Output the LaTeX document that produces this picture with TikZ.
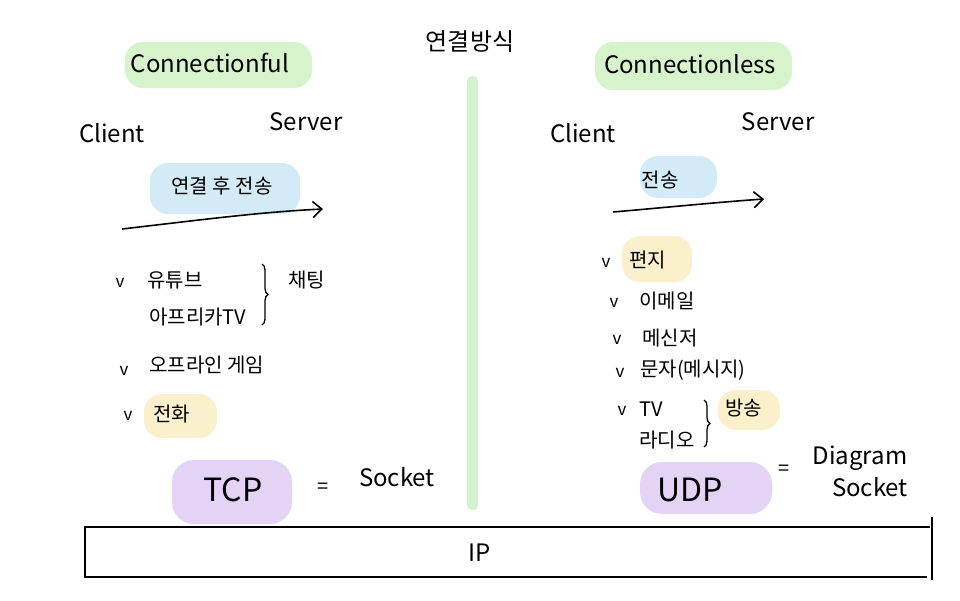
\documentclass[tikz,border=0pt]{standalone}
\usepackage{fontspec}
\setmainfont{Noto Sans CJK KR}
\usetikzlibrary{arrows.meta,decorations.pathreplacing}
\definecolor{hlgreen}{HTML}{D6F3CC}
\definecolor{hlblue}{HTML}{D3EBF6}
\definecolor{hlyellow}{HTML}{FAF0CC}
\definecolor{hlpurple}{HTML}{E3D3F4}
\definecolor{divgreen}{HTML}{D4F2CF}
\tikzset{
  txt/.style={inner sep=1pt, font=\fontsize{20}{22}\selectfont},
  title/.style={inner sep=1pt, font=\fontsize{24}{26}\selectfont},
  role/.style={inner sep=1pt, font=\fontsize{24}{26}\selectfont},
  chk/.style={inner sep=0pt, font=\fontsize{17}{18}\selectfont},
  big/.style={inner sep=1pt, font=\fontsize{32}{34}\selectfont},
  hl/.style={rounded corners=18pt},
  flow/.style={line width=1.6pt, -{Straight Barb[length=9pt,width=16pt]}},
  brc/.style={line width=1.3pt, decorate, decoration={brace, amplitude=6pt}},
  line/.style={line width=1.4pt}
}
\begin{document}
\begin{tikzpicture}[x=1pt,y=-1pt]
\useasboundingbox (0,0) rectangle (960,600);
\fill[white] (0,0) rectangle (960,600);
% divider
\fill[divgreen, rounded corners=5pt] (467,76) rectangle (478,510);
% highlights
\fill[hlgreen, hl] (125,42) rectangle (312,88);
\fill[hlgreen, hl] (595,42) rectangle (792,90);
\fill[hlblue, hl] (150,163) rectangle (300,214);
\fill[hlblue, hl] (640,156) rectangle (717,198);
\fill[hlyellow, hl] (144,394) rectangle (217,438);
\fill[hlyellow, hl] (622,236) rectangle (692,282);
\fill[hlyellow, hl] (718,390) rectangle (780,430);
\fill[hlpurple, rounded corners=22pt] (172,460) rectangle (292,524);
\fill[hlpurple, rounded corners=22pt] (640,462) rectangle (772,514);
% header
\node[title] (hdr) at (470,42) {연결방식};
\node[title] (cful) at (210,63) {Connectionful};
\node[title] (cless) at (690,64) {Connectionless};
% left side
\node[role] (cl1) at (112,133) {Client};
\node[role] (sv1) at (306,122) {Server};
\node[txt] (t1) at (222,186) {연결 후 전송};
\coordinate (a1s) at (122,229);
\coordinate (a1e) at (323,209);
\draw[flow] (a1s) .. controls (200,220) and (260,212) .. (a1e);
\node[chk] (c1) at (120,283) {v};
\node[txt, anchor=west] (yt) at (146,280) {유튜브};
\node[txt, anchor=west] (af) at (148,317) {아프리카TV};
\draw[brc] (262,264) -- (262,325);
\node[txt, anchor=west] (chat) at (287,280) {채팅};
\node[chk] (c2) at (124,371) {v};
\node[txt, anchor=west] (game) at (148,365) {오프라인 게임};
\node[chk] (c3) at (128,416) {v};
\node[txt, anchor=west] (tel) at (152,414) {전화};
\node[big] (tcp) at (233,490) {TCP};
\node[txt] (eq1) at (323,488) {=};
\node[role] (sock1) at (397,477) {Socket};
% right side
\node[role] (cl2) at (583,133) {Client};
\node[role] (sv2) at (778,122) {Server};
\node[txt] (t2) at (660,180) {전송};
\coordinate (a2s) at (613,212);
\coordinate (a2e) at (764,199);
\draw[flow] (a2s) .. controls (660,208) and (720,202) .. (a2e);
\node[chk] (d1) at (606,263) {v};
\node[txt, anchor=west] (letter) at (628,260) {편지};
\node[chk] (d2) at (614,303) {v};
\node[txt, anchor=west] (mail) at (638,301) {이메일};
\node[chk] (d3) at (617,340) {v};
\node[txt, anchor=west] (msg) at (641,338) {메신저};
\node[chk] (d4) at (620,373) {v};
\node[txt, anchor=west] (sms) at (639,370) {문자(메시지)};
\node[chk] (d5) at (622,411) {v};
\node[txt, anchor=west] (tv) at (638,409) {TV};
\node[txt, anchor=west] (radio) at (638,440) {라디오};
\draw[brc] (704,400) -- (704,447);
\node[txt, anchor=west] (bc) at (724,408) {방송};
\node[big] (udp) at (690,490) {UDP};
\node[txt] (eq2) at (784,470) {=};
\node[role] (diag) at (860,458) {Diagram};
\node[role] (sock2) at (870,487) {Socket};
% IP box
\coordinate (ipa) at (85,527);
\coordinate (ipb) at (930,527);
\coordinate (ipc) at (927,577);
\coordinate (ipd) at (85,577);
\coordinate (ipt) at (932,517);
\coordinate (ipu) at (932,580);
\draw[line] (ipb) -- (ipa) -- (ipd) -- (ipc);
\draw[line] (ipt) -- (ipu);
\node[role] (ip) at (480,553) {IP};
\end{tikzpicture}
\end{document}
